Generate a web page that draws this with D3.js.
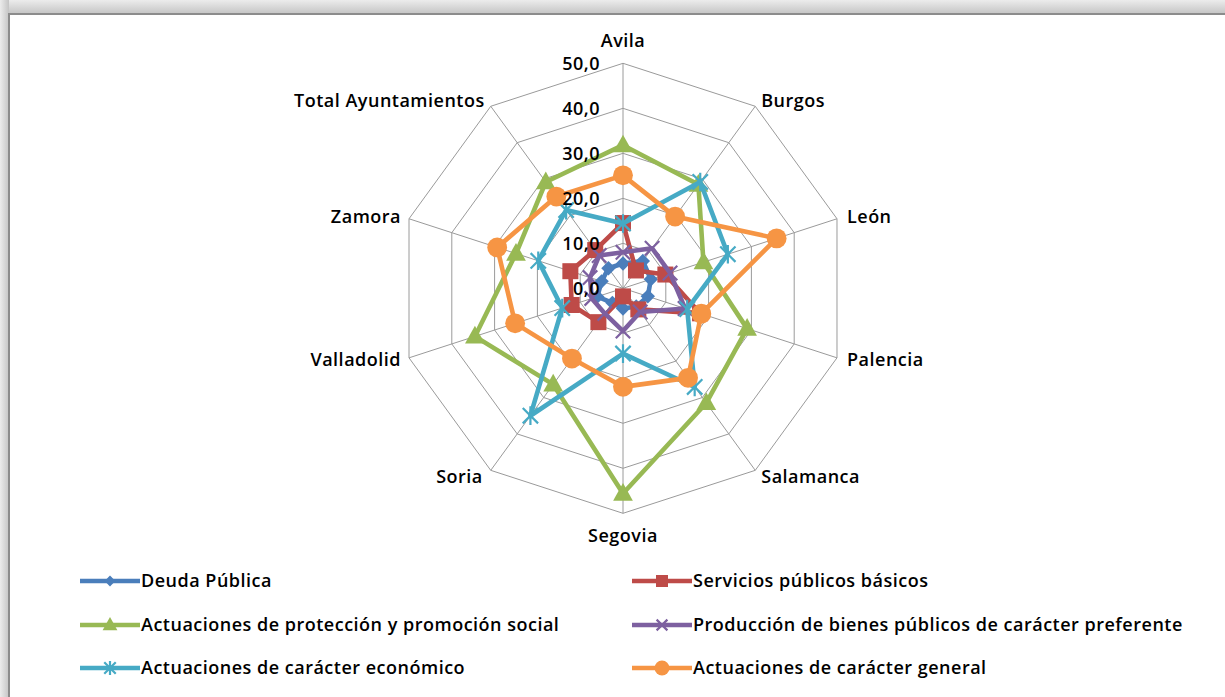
<!DOCTYPE html>
<html><head><meta charset="utf-8">
<script src="https://cdn.jsdelivr.net/npm/d3@7"></script>
<style>
html,body{margin:0;padding:0;background:#fff;}
svg{display:block;}
text{font-family:"Open Sans",Lato,sans-serif;fill:#000;font-weight:600;letter-spacing:0.5px;}
</style></head>
<body>
<svg id="chart" width="1225" height="697"></svg>
<script>
const categories = ["Avila","Burgos","León","Palencia","Salamanca","Segovia","Soria","Valladolid","Zamora","Total Ayuntamientos"];
const tickValues = [0,10,20,30,40,50];
const tickLabels = ["0,0","10,0","20,0","30,0","40,0","50,0"];
const seriesNames = ["Deuda Pública","Servicios públicos básicos","Actuaciones de protección y promoción social","Producción de bienes públicos de carácter preferente","Actuaciones de carácter económico","Actuaciones de carácter general"];
const deuda      = [5.5, 7.5, 6.5, 5.8, 5.0, 4.5, 4.0, 6.0, 5.0, 5.5];
const servicios  = [14.5, 4.9, 9.9, 18.0, 5.8, 1.8, 9.3, 12.0, 12.3, 10.5];
const proteccion = [31.8, 28.5, 18.8, 29.0, 31.5, 45.6, 26.4, 34.6, 25.0, 29.2];
const produccion = [8.0, 11.0, 11.0, 14.5, 6.5, 9.5, 6.9, 7.3, 7.7, 9.0];
const economico  = [14.4, 29.2, 24.5, 15.0, 27.1, 14.5, 35.0, 14.2, 19.8, 21.5];
const general    = [25.1, 19.7, 35.9, 18.3, 24.6, 21.9, 19.3, 25.2, 29.4, 25.2];

const seriesValues = [deuda, servicios, proteccion, produccion, economico, general];
const colors = ["#4A7EBB","#BE4B48","#98B954","#7D60A0","#46AAC5","#F69544"];
const markers = ["diamond","square","triangle","x","star","circle"];

const svg = d3.select("#chart");
const W = 1225, H = 697;

// frame / shadow
const defs = svg.append("defs");
const gTop = defs.append("linearGradient").attr("id","gt").attr("x1",0).attr("y1",0).attr("x2",0).attr("y2",1);
gTop.append("stop").attr("offset",0).attr("stop-color","#ececec");
gTop.append("stop").attr("offset",1).attr("stop-color","#c4c4c4");
const gLeft = defs.append("linearGradient").attr("id","gl").attr("x1",0).attr("y1",0).attr("x2",1).attr("y2",0);
gLeft.append("stop").attr("offset",0).attr("stop-color","#ececec");
gLeft.append("stop").attr("offset",1).attr("stop-color","#c4c4c4");
svg.append("rect").attr("x",0).attr("y",0).attr("width",W).attr("height",14).attr("fill","url(#gt)");
svg.append("rect").attr("x",0).attr("y",0).attr("width",9).attr("height",H).attr("fill","url(#gl)");
svg.append("rect").attr("x",9).attr("y",14).attr("width",W).attr("height",H).attr("fill","#fff").attr("stroke","#8c8c8c").attr("stroke-width",2);

const cx = 623, cy = 288.3, R = 225;
const r = d3.scaleLinear().domain([0,50]).range([0,R]);
const angle = d3.scalePoint().domain(d3.range(categories.length)).range([0, 2*Math.PI*(1-1/categories.length)]);
const g = svg.append("g").attr("transform",`translate(${cx},${cy})`);
const pt = (i,v) => [Math.sin(angle(i))*r(v), -Math.cos(angle(i))*r(v)];

// rings
const ring = d3.lineRadial().angle((d,i)=>angle(i)).radius(d=>r(d)).curve(d3.curveLinearClosed);
tickValues.filter(t=>t>0).forEach(t=>{
  g.append("path").attr("d", ring(categories.map(()=>t))).attr("fill","none").attr("stroke","#9a9a9a").attr("stroke-width",1);
});
// spokes
categories.forEach((c,i)=>{
  const p = pt(i,50);
  g.append("line").attr("x1",0).attr("y1",0).attr("x2",p[0]).attr("y2",p[1]).attr("stroke","#9a9a9a").attr("stroke-width",1);
});

// series
const line = d3.lineRadial().angle((d,i)=>angle(i)).radius(d=>r(d)).curve(d3.curveLinearClosed);
function drawMarker(sel, type, color, s){
  if(type==="circle") sel.append("circle").attr("r",s*0.62).attr("fill",color);
  else if(type==="square") sel.append("rect").attr("x",-s/2).attr("y",-s/2).attr("width",s).attr("height",s).attr("fill",color);
  else if(type==="diamond") sel.append("path").attr("d",`M0,${-s*0.6}L${s*0.6},0L0,${s*0.6}L${-s*0.6},0Z`).attr("fill",color);
  else if(type==="triangle") sel.append("path").attr("d",`M0,${-s*0.62}L${s*0.58},${s*0.42}L${-s*0.58},${s*0.42}Z`).attr("fill",color);
  else if(type==="x") sel.append("path").attr("d",`M${-s*0.45},${-s*0.45}L${s*0.45},${s*0.45}M${s*0.45},${-s*0.45}L${-s*0.45},${s*0.45}`).attr("stroke",color).attr("stroke-width",2.2).attr("fill","none");
  else if(type==="star") sel.append("path").attr("d",`M${-s*0.45},${-s*0.45}L${s*0.45},${s*0.45}M${s*0.45},${-s*0.45}L${-s*0.45},${s*0.45}M0,${-s*0.55}L0,${s*0.55}`).attr("stroke",color).attr("stroke-width",2.2).attr("fill","none");
}
const mSizes = [12,16,17,16,17,16];
seriesValues.forEach((vals,si)=>{
  const sg = g.append("g");
  sg.append("path").attr("d", line(vals)).attr("fill","none").attr("stroke",colors[si]).attr("stroke-width",4.6).attr("stroke-linejoin","round");
  vals.forEach((v,i)=>{
    const p = pt(i,v);
    const mg = sg.append("g").attr("transform",`translate(${p[0]},${p[1]})`);
    drawMarker(mg, markers[si], colors[si], mSizes[si]);
  });
});

// tick labels
tickValues.forEach((t,i)=>{
  g.append("text").attr("x",-23).attr("y",-r(t)).attr("dy","0.35em").attr("text-anchor","end")
    .style("font-size","18px").text(tickLabels[i]);
});

// category labels
const labelPos = [
  {a:"middle", dx:0, dy:-23},
  {a:"start", dx:6, dy:-6},
  {a:"start", dx:10, dy:-2},
  {a:"start", dx:10, dy:2},
  {a:"start", dx:6, dy:6},
  {a:"middle", dx:0, dy:22},
  {a:"end", dx:-8, dy:6},
  {a:"end", dx:-8, dy:2},
  {a:"end", dx:-8, dy:-2},
  {a:"end", dx:-6, dy:-6}
];
categories.forEach((c,i)=>{
  const p = pt(i,50);
  g.append("text").attr("x",p[0]+labelPos[i].dx).attr("y",p[1]+labelPos[i].dy).attr("dy","0.35em")
    .attr("text-anchor",labelPos[i].a).style("font-size","18px").text(c);
});

// legend
const legX = [80, 632], legY = [581, 625, 668];
seriesNames.forEach((n,i)=>{
  const col = i%2, row = Math.floor(i/2);
  const lg = svg.append("g").attr("transform",`translate(${legX[col]},${legY[row]})`);
  lg.append("line").attr("x1",0).attr("x2",60).attr("y1",0).attr("y2",0).attr("stroke",colors[i]).attr("stroke-width",4.6);
  const mg = lg.append("g").attr("transform","translate(30,0)");
  drawMarker(mg, markers[i], colors[i], mSizes[i]*0.75);
  lg.append("text").attr("x",61).attr("y",0).attr("dy","0.35em").style("font-size","18px").text(n);
});
</script>
</body></html>
